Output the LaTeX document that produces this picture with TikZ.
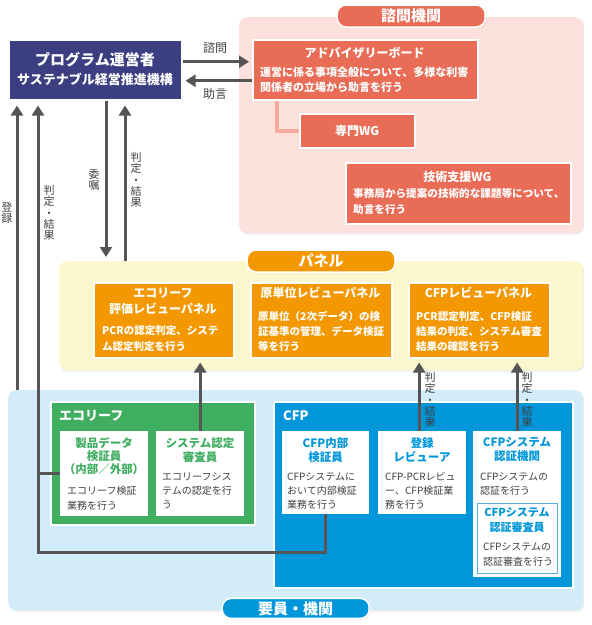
\documentclass[tikz,border=0pt]{standalone}
\usepackage{fontspec}
\setmainfont{Noto Sans CJK JP}
\usepackage{xcolor}
\usetikzlibrary{arrows.meta,shadows}
\definecolor{navy}{RGB}{59,62,129}
\definecolor{salmon}{RGB}{233,108,87}
\definecolor{pinkbg}{RGB}{252,225,220}
\definecolor{salmonline}{RGB}{245,170,155}
\definecolor{creambg}{RGB}{252,248,205}
\definecolor{panelorange}{RGB}{243,152,0}
\definecolor{skybg}{RGB}{210,236,249}
\definecolor{leafgreen}{RGB}{64,174,96}
\definecolor{cfpblue}{RGB}{0,150,218}
\definecolor{shinsaline}{RGB}{90,175,225}
\definecolor{arrowgray}{RGB}{85,85,85}
\definecolor{textgray}{RGB}{64,64,64}
\newcommand\fsz[2]{\fontsize{#1}{#2}\selectfont}

\begin{document}
\begin{tikzpicture}[x=1pt,y=-1pt,
    area/.style={fill=#1,rounded corners=8pt,anchor=north west,inner sep=0pt,
        drop shadow={opacity=0.15,shadow xshift=1pt,shadow yshift=-1.5pt}},
    tab/.style={fill=#1,draw=white,line width=1.5pt,rounded corners=9pt,inner sep=0pt,
        text=white,font=\bfseries\fsz{15}{15},
        drop shadow={opacity=0.15,shadow xshift=1pt,shadow yshift=-1pt}},
    box/.style={fill=#1,draw=white,line width=1.5pt,anchor=north west,inner sep=0pt,
        drop shadow={opacity=0.2,shadow xshift=1pt,shadow yshift=-1pt}},
    wbox/.style={fill=white,anchor=north west,inner sep=0pt},
    wtext/.style={text=white,inner sep=0pt,align=left},
    gtext/.style={text=textgray,inner sep=0pt,align=left},
    vlbl/.style={text=textgray,inner sep=0pt,align=center,font=\fsz{11}{11.3}},
    arr/.style={draw=arrowgray,line width=3pt,-{Triangle[width=12pt,length=10pt]}},
    link/.style={draw=arrowgray,line width=3pt}
]
    \useasboundingbox (0,0) rectangle (592,625);

    \node[area=pinkbg,minimum width=344pt,minimum height=216pt] (shimon) at (239,17) {};
    \node[area=creambg,minimum width=524pt,minimum height=109pt] (panel) at (59,261) {};
    \node[area=skybg,minimum width=575pt,minimum height=220pt] (youin) at (8,390) {};
    \node[tab=salmon,minimum width=148pt,minimum height=22pt] (shimontab) at ([yshift=1pt]shimon.north) {諮問機関};
    \node[tab=panelorange,minimum width=148pt,minimum height=22pt] (paneltab) at (panel.north) {パネル};
    \node[tab=cfpblue,minimum width=147pt,minimum height=20pt] (youintab) at ([yshift=2pt]youin.south) {要員・機関};

    \node[box=navy,minimum width=173pt,minimum height=60pt] (prog) at (8,39) {};
    \node[wtext,font=\bfseries\fsz{15}{15}] (progname) at (95,60) {プログラム運営者};
    \node[wtext,font=\bfseries\fsz{13}{13}] (progorg) at (95,79) {サステナブル経営推進機構};

    \node[box=salmon,minimum width=225pt,minimum height=60pt] (adv) at (252,39) {};
    \node[wtext,font=\bfseries\fsz{12}{12}] (advtitle) at (364.5,53) {アドバイザリーボード};
    \node[wtext,font=\bfseries\fsz{11}{15},anchor=north west] (advtext) at (260,67) {運営に係る事項全般について、多様な利害\\関係者の立場から助言を行う};
    \node[box=salmon,minimum width=115pt,minimum height=34pt,text=white,font=\bfseries\fsz{12}{12}] (senmon) at (299,113) {専門WG};
    \draw[salmonline,line width=4pt] ([xshift=25pt]adv.south west) |- (senmon.west);
    \node[box=salmon,minimum width=225pt,minimum height=61pt] (gijutsu) at (345,162) {};
    \node[wtext,font=\bfseries\fsz{12}{12}] (gijutsutitle) at (457.5,177) {技術支援WG};
    \node[wtext,font=\bfseries\fsz{10.6}{16},anchor=north west] (gijutsutext) at (353,188.5) {事務局から提案の技術的な課題等について、\\助言を行う};

    \node[box=panelorange,minimum width=140pt,minimum height=75pt] (ecopanel) at (93,282) {};
    \node[wtext,align=center,font=\bfseries\fsz{12}{16},anchor=north] (ecopaneltitle) at (163,288) {エコリーフ\\評価レビューパネル};
    \node[wtext,font=\bfseries\fsz{10.5}{15.5},anchor=north west] (ecopaneltext) at (102,325.5) {PCRの認定判定、システ\\ム認定判定を行う};
    \node[box=panelorange,minimum width=141pt,minimum height=75pt] (genpanel) at (250,282) {};
    \node[wtext,font=\bfseries\fsz{12}{12}] (genpaneltitle) at (320.5,293) {原単位レビューパネル};
    \node[wtext,font=\bfseries\fsz{10.5}{15},anchor=north west] (genpaneltext) at (258,311.5) {原単位（2次データ）の検\\証基準の管理、データ検証\\等を行う};
    \node[box=panelorange,minimum width=141pt,minimum height=75pt] (cfppanel) at (408,282) {};
    \node[wtext,font=\bfseries\fsz{12}{12}] (cfppaneltitle) at (478.5,293) {CFPレビューパネル};
    \node[wtext,font=\bfseries\fsz{10.5}{15},anchor=north west] (cfppaneltext) at (416,311.5) {PCR認定判定、CFP検証\\結果の判定、システム審査\\結果の確認を行う};

    \node[box=leafgreen,minimum width=204pt,minimum height=123pt] (ecoleaf) at (50,401) {};
    \node[wtext,font=\bfseries\fsz{13}{13},anchor=west] (ecoleaftitle) at (59,416) {エコリーフ};
    \node[wbox,minimum width=88pt,minimum height=85pt] (seihin) at (60,431) {};
    \node[text=leafgreen,align=center,inner sep=0pt,font=\bfseries\fsz{11.5}{13},anchor=north] (seihintitle) at (104,437) {製品データ\\検証員\\（内部／外部）};
    \node[gtext,font=\fsz{10}{15},anchor=north west] (seihintext) at (67,485.5) {エコリーフ検証\\業務を行う};
    \node[wbox,minimum width=88pt,minimum height=85pt] (sysnin) at (156,431) {};
    \node[text=leafgreen,align=center,inner sep=0pt,font=\bfseries\fsz{11.5}{14},anchor=north] (sysnintitle) at (200,437) {システム認定\\審査員};
    \node[gtext,font=\fsz{10}{14},anchor=north west] (sysnintext) at (162,472.5) {エコリーフシス\\テムの認定を行\\う};

    \node[box=cfpblue,minimum width=299pt,minimum height=186pt] (cfp) at (273,401) {};
    \node[wtext,font=\bfseries\fsz{13}{13},anchor=west] (cfptitle) at (283,416) {CFP};
    \node[wbox,minimum width=87pt,minimum height=83pt] (naibu) at (282,431) {};
    \node[text=cfpblue,align=center,inner sep=0pt,font=\bfseries\fsz{11.5}{14},anchor=north] (naibutitle) at (325.5,437) {CFP内部\\検証員};
    \node[gtext,font=\fsz{10}{14},anchor=north west] (naibutext) at (287,472.5) {CFPシステムに\\おいて内部検証\\業務を行う};
    \node[wbox,minimum width=88pt,minimum height=83pt] (touroku) at (378,431) {};
    \node[text=cfpblue,align=center,inner sep=0pt,font=\bfseries\fsz{11.5}{14},anchor=north] (tourokutitle) at (422,437) {登録\\レビューア};
    \node[gtext,font=\fsz{10}{14},anchor=north west] (tourokutext) at (385,472.5) {CFP-PCRレビュ\\ー、CFP検証業\\務を行う};
    \node[wbox,minimum width=88pt,minimum height=146pt] (kikan) at (473,431) {};
    \node[text=cfpblue,align=center,inner sep=0pt,font=\bfseries\fsz{11.5}{14},anchor=north] (kikantitle) at (517,437) {CFPシステム\\認証機関};
    \node[gtext,font=\fsz{10}{14},anchor=north west] (kikantext) at (480,472.5) {CFPシステムの\\認証を行う};
    \node[wbox,draw=shinsaline,line width=1pt,minimum width=80pt,minimum height=70pt] (shinsa) at (477,503) {};
    \node[text=cfpblue,align=center,inner sep=0pt,font=\bfseries\fsz{11}{15},anchor=north] (shinsatitle) at (517,507) {CFPシステム\\認証審査員};
    \node[gtext,font=\fsz{10}{15},anchor=north west] (shinsatext) at (483,542.5) {CFPシステムの\\認証審査を行う};

    \draw[arr,shorten >=3pt] ([yshift=8pt]prog.east) -- ([yshift=8pt]adv.west);
    \draw[arr,shorten >=3pt] ([yshift=-11pt]adv.west) -- ([yshift=-11pt]prog.east);
    \node[gtext,font=\fsz{12}{12}] (shimonlbl) at (215,48) {諮問};
    \node[gtext,font=\fsz{12}{12}] (jogenlbl) at (215,94) {助言};

    \draw[arr,shorten >=5pt] ([xshift=9pt]youin.north west) -- ([xshift=9pt]prog.south west);
    \coordinate (hantei) at (38,552);
    \draw[arr,shorten >=5pt] (naibu.south) |- (hantei) -- (hantei |- prog.south);
    \draw[link] (seihin.west) -- (seihin.west -| hantei);
    \draw[arr] ([xshift=98pt]prog.south west) -- ([xshift=47pt,yshift=4pt]panel.north west);
    \draw[arr,shorten >=5pt] ([xshift=66pt]panel.north west) -- ([xshift=117pt]prog.south west);
    \node[vlbl] (tourokulbl) at (7,212.5) {登\\録};
    \node[vlbl] (hantei1lbl) at (49,213) {判\\定\\・\\結\\果};
    \node[vlbl] (ishokulbl) at (94,180) {委\\嘱};
    \node[vlbl] (hantei2lbl) at (136,180) {判\\定\\・\\結\\果};

    \coordinate (tr) at ([xshift=-3pt]touroku.north);
    \draw[arr,shorten >=4pt] (sysnin.north) -- (sysnin.north |- ecopanel.south);
    \draw[arr,shorten >=4pt] (tr) -- (tr |- cfppanel.south);
    \draw[arr,shorten >=4pt] (kikan.north) -- (kikan.north |- cfppanel.south);
    \node[vlbl] (hantei3lbl) at (430,400) {判\\定\\・\\結\\果};
    \node[vlbl] (hantei4lbl) at (527,400) {判\\定\\・\\結\\果};
\end{tikzpicture}
\end{document}
